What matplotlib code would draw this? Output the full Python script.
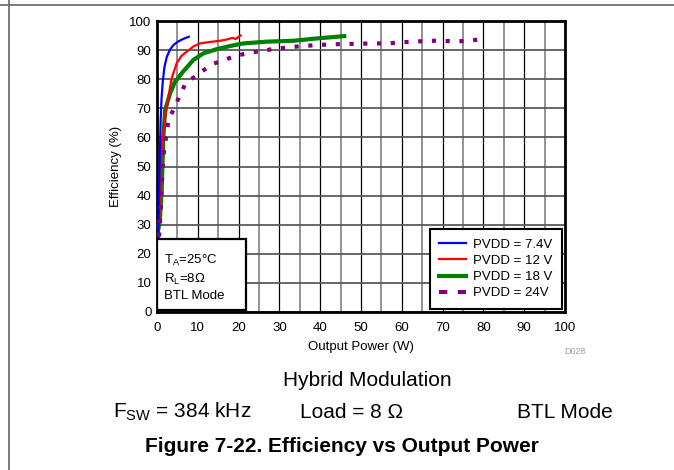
import numpy as np
import matplotlib
matplotlib.use("Agg")
import matplotlib.pyplot as plt
from matplotlib.lines import Line2D
from matplotlib.patches import Rectangle
from matplotlib.ticker import MultipleLocator

plt.rcParams["font.family"] = ["Liberation Sans", "DejaVu Sans"]
plt.rcParams["mathtext.fontset"] = "custom"
plt.rcParams["mathtext.rm"] = "Liberation Sans"

# PVDD = 7.4 V
blue_x = [0.3, 0.5, 0.7, 0.9, 1.1, 1.4, 1.8, 2.4, 3.2, 4.0, 5.0, 6.2, 7.8]
blue_y = [25, 40, 55, 66, 73, 79, 84, 87.7, 90.2, 91.7, 92.8, 93.7, 94.6]
# PVDD = 12 V
red_x = [0.4, 0.7, 1.0, 1.4, 2.0, 2.8, 3.6, 4.8, 6.0, 7.3, 9.0, 10.5, 13.0,
         15.4, 17.0, 18.5, 19.3, 20.0, 20.5]
red_y = [25, 40, 52, 60, 67, 74, 80.3, 85.4, 88, 89.5, 91.3, 92.3, 92.8,
         93.2, 93.6, 94.2, 93.8, 94.6, 95.0]
# PVDD = 18 V
green_x = [0.4, 0.7, 1.15, 1.55, 2.0, 3.2, 4.4, 6.4, 8.9, 11.4, 14.6, 17.9,
           21.2, 26.9, 33.4, 39.1, 45.9]
green_y = [29, 31.6, 42, 60, 69.4, 75.1, 79.1, 82.6, 86.6, 88.9, 90.3, 91.4,
           92.3, 92.9, 93.2, 94.0, 94.8]
# PVDD = 24 V
purple_x = [0.5, 0.75, 0.95, 1.15, 1.3, 1.55, 1.8, 2.4, 2.8, 4.0, 5.4, 7.0,
            10.1, 13.4, 16.8, 20.1, 23.4, 26.7, 30.0, 33.3, 36.7, 40.0, 43.2,
            46.6, 49.9, 53.3, 56.6, 60.0, 63.2, 66.5, 69.8, 73.2, 76.5, 79.7]
purple_y = [25.9, 31.6, 36, 42.5, 47, 52.2, 56.8, 61.4, 66, 69.4, 73.8, 78.6,
            81.7, 85.1, 86.8, 88.3, 89.2, 90.0, 90.6, 91.1, 91.5, 91.8, 92.0,
            92.1, 92.2, 92.3, 92.3, 92.7, 92.9, 93.2, 93.2, 93.0, 93.2, 93.8]

fig = plt.figure(figsize=(6.74, 4.70), dpi=100)
ax = fig.add_axes([157/674, 1-312/470, 408/674, 291/470])

ax.set_xlim(0, 100)
ax.set_ylim(0, 100)
ax.xaxis.set_major_locator(MultipleLocator(10))
ax.xaxis.set_minor_locator(MultipleLocator(5))
ax.yaxis.set_major_locator(MultipleLocator(10))

ax.grid(True, which="minor", axis="x", color="#8a8a8a", lw=1.3)
ax.grid(True, which="major", axis="x", color="black", lw=0.9)
ax.grid(True, which="major", axis="y", color="#5a5a5a", lw=1.3)
ax.set_axisbelow(True)
ax.tick_params(which="both", length=0, labelsize=9.5)
ax.tick_params(axis="x", pad=7)
ax.tick_params(axis="y", pad=4)
for s in ax.spines.values():
    s.set_linewidth(2)
    s.set_color("black")

ax.plot(green_x, green_y, color="#008000", lw=3, label="PVDD = 18 V", zorder=3)
ax.plot(red_x, red_y, color="#ff0000", lw=1.6, label="PVDD = 12 V", zorder=4)
ax.plot(blue_x, blue_y, color="#0000ff", lw=1.6, label="PVDD = 7.4V", zorder=5)
ax.plot(purple_x, purple_y, color="#800080", lw=3, ls=(0, (1, 2.3)),
        label="PVDD = 24V", zorder=6)

# legend in the reference order, purple entry drawn as two dashes
h, l = ax.get_legend_handles_labels()
order = [2, 1, 0, 3]
leg_handles = [h[i] for i in order]
leg_handles[3] = Line2D([], [], color="#800080", lw=3, ls=(0, (2, 2.5)))
leg = ax.legend(leg_handles, [l[i] for i in order], loc="lower right",
                bbox_to_anchor=(1, 0), borderaxespad=0.25, fontsize=9.5,
                fancybox=False, framealpha=1, edgecolor="black",
                handlelength=2.1, handletextpad=0.5, labelspacing=0.3,
                borderpad=0.7)
leg.get_frame().set_linewidth(1.5)
leg.set_zorder(10)

# conditions box
ax.add_patch(Rectangle((0, 0.6), 21.8, 24.4, facecolor="white",
                       edgecolor="black", lw=1.6, zorder=9))
ax.text(1.8, 3.3, "T$_\\mathregular{A}$=25°C\nR$_\\mathregular{L}$=8Ω\nBTL Mode",
        fontsize=9.5, va="bottom", ha="left", linespacing=1.35, zorder=10)

ax.set_xlabel("Output Power (W)", fontsize=9.5, labelpad=5)
ax.set_ylabel("Efficiency (%)", fontsize=9.5, labelpad=5)

fig.text(575/674, 1-352/470, "D028", fontsize=6.5, color="#a0a0a0",
         ha="center", va="center")

fig.text(367/674, 1-380/470, "Hybrid Modulation", fontsize=15,
         ha="center", va="center")
fig.text(113/674, 1-412/470, "F$_\\mathregular{SW}$ = 384 kHz", fontsize=15,
         ha="left", va="center")
fig.text(300/674, 1-412/470, "Load = 8 Ω", fontsize=15,
         ha="left", va="center")
fig.text(517/674, 1-412/470, "BTL Mode", fontsize=15,
         ha="left", va="center")
fig.text(342/674, 1-447/470, "Figure 7-22. Efficiency vs Output Power",
         fontsize=15, fontweight="bold", ha="center", va="center")

# page frame lines
fig.add_artist(Line2D([0, 1], [1-5/470, 1-5/470], color="#707070", lw=1.3,
                      transform=fig.transFigure))
fig.add_artist(Line2D([9/674, 9/674], [0, 1], color="#707070", lw=1.3,
                      transform=fig.transFigure))

fig.savefig("out.png", dpi=100)
plt.close()
